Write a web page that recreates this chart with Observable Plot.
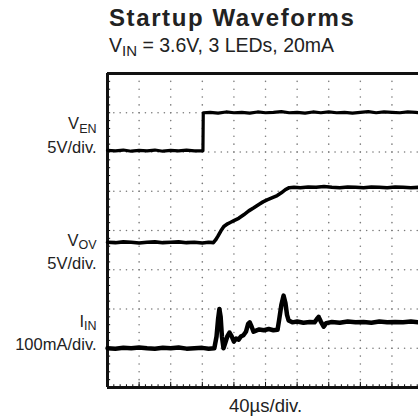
<!DOCTYPE html>
<html>
<head>
<meta charset="utf-8">
<script src="https://cdn.jsdelivr.net/npm/d3@7"></script>
<script src="https://cdn.jsdelivr.net/npm/@observablehq/plot@0.6"></script>
<style>
  body { margin: 0; background: #fff; font-family: "Liberation Sans", Arial, sans-serif; }
  #wrap { position: relative; width: 418px; height: 416px; overflow: hidden; background: #fff; }
  #chart { position: absolute; left: 0; top: 0; }
  #title { position: absolute; left: 109px; top: 6px; font-weight: bold; font-size: 24px; letter-spacing: 1.6px; color: #222; line-height: 1; white-space: nowrap; }
  #sub { position: absolute; left: 109px; top: 36px; font-size: 19.5px; color: #222; line-height: 1; white-space: nowrap; }
  #sub span { font-size: 15px; position: relative; top: 4px; }
</style>
</head>
<body>
<div id="wrap">
  <div id="chart"></div>
  <div id="title">Startup Waveforms</div>
  <div id="sub">V<span>IN</span> = 3.6V, 3 LEDs, 20mA</div>
</div>
<script>
// Time axis in divisions (40 µs/div), vertical in divisions from screen bottom
const ven = [[0,6.04],[0.25,6.03],[0.5,6.05],[0.75,6.02],[1,6.04],[1.25,6.03],[1.5,6.05],[1.75,6.02],[2,6.04],[2.25,6.03],[2.5,6.05],[2.75,6.03],[3.02,6.03],[3.03,7.0],[3.25,7.01],[3.5,6.99],[3.75,7.02],[4,7.0],[4.25,7.01],[4.5,6.99],[4.75,7.02],[5,7.0],[5.25,7.01],[5.5,7.03],[5.75,7.0],[6,7.01],[6.25,6.99],[6.5,7.02],[6.75,7.0],[7,7.02],[7.25,7.0],[7.5,7.01],[7.75,6.99],[8,7.01],[8.25,7.03],[8.5,7.0],[8.75,7.02],[9,7.01],[9.25,7.0],[9.5,7.02],[9.75,7.01],[9.84,7.0]];
const vov = [[0,3.70],[0.25,3.69],[0.5,3.71],[0.75,3.70],[1,3.68],[1.25,3.70],[1.5,3.71],[1.75,3.69],[2,3.70],[2.25,3.71],[2.5,3.69],[2.75,3.70],[3,3.68],[3.2,3.70],[3.35,3.69],[3.42,3.76],[3.49,3.85],[3.58,3.98],[3.68,4.10],[3.8,4.17],[3.9,4.21],[4.0,4.25],[4.15,4.31],[4.31,4.40],[4.47,4.50],[4.63,4.58],[4.8,4.67],[4.92,4.73],[5.05,4.78],[5.2,4.83],[5.37,4.89],[5.5,4.96],[5.63,5.04],[5.75,5.09],[5.9,5.10],[6.1,5.09],[6.35,5.11],[6.6,5.10],[6.85,5.12],[7.1,5.10],[7.35,5.09],[7.6,5.11],[7.85,5.10],[8.1,5.09],[8.35,5.11],[8.6,5.10],[8.85,5.09],[9.1,5.11],[9.35,5.10],[9.6,5.09],[9.84,5.10]];
const iin = [[0,1.0],[0.25,0.99],[0.5,1.01],[0.75,1.0],[1,1.02],[1.25,1.0],[1.5,0.99],[1.75,1.01],[2,1.0],[2.25,1.02],[2.5,0.99],[2.75,1.0],[3,1.01],[3.2,0.99],[3.38,1.0],[3.45,1.3],[3.5,1.75],[3.54,2.0],[3.58,1.8],[3.62,1.3],[3.67,1.0],[3.72,1.12],[3.79,1.3],[3.86,1.4],[3.93,1.3],[4.0,1.17],[4.07,1.25],[4.15,1.22],[4.22,1.3],[4.3,1.33],[4.38,1.42],[4.45,1.62],[4.5,1.66],[4.56,1.55],[4.62,1.42],[4.7,1.45],[4.8,1.48],[4.95,1.46],[5.1,1.49],[5.25,1.46],[5.38,1.47],[5.43,1.72],[5.5,2.1],[5.57,2.34],[5.63,2.15],[5.68,1.85],[5.73,1.71],[5.85,1.66],[6.0,1.68],[6.2,1.65],[6.4,1.67],[6.55,1.66],[6.62,1.74],[6.68,1.8],[6.75,1.68],[6.84,1.55],[6.92,1.64],[7.1,1.67],[7.35,1.65],[7.6,1.68],[7.85,1.66],[8.1,1.67],[8.35,1.65],[8.6,1.68],[8.85,1.66],[9.1,1.67],[9.35,1.66],[9.6,1.68],[9.84,1.66]];

const channelLabels = ["V_EN", "5V/div.", "V_OV", "5V/div.", "I_IN", "100mA/div."];
const channelLabelRows = [6.72, 6.10, 3.74, 3.16, 1.68, 1.10];
const timeLabel = ["40µs/div."];

const xMax = 9.84;   // visible part of the 10-division screen
const majorX = d3.range(1, 10);
const majorY = d3.range(1, 8);
const minorX = d3.range(0.2, xMax, 0.2);
const minorY = d3.range(0.2, 8, 0.2);

const gridDots = [];
for (const gx of majorX) for (const gy of minorY) gridDots.push([gx, gy]);
for (const gy of majorY) for (const gx of minorX) gridDots.push([gx, gy]);

const labels = channelLabels.map((t, i) => ({t, y: channelLabelRows[i]}));
const font = '"Liberation Sans", Arial, sans-serif';

const chart = Plot.plot({
  width: 418,
  height: 416,
  marginLeft: 107,
  marginRight: 0,
  marginTop: 73,
  marginBottom: 29,
  x: {domain: [0, xMax], axis: null},
  y: {domain: [0, 8], axis: null},
  style: {background: "transparent", fontFamily: font, overflow: "visible"},
  marks: [
    Plot.dot(gridDots, {x: d => d[0], y: d => d[1], r: 0.8, fill: "#7a7a7a", stroke: null}),
    Plot.ruleY(minorY, {x1: 0, x2: 0.1, stroke: "#111", strokeWidth: 1}),
    Plot.ruleX(minorX, {y1: 0, y2: 0.07, stroke: "#111", strokeWidth: 1}),
    Plot.ruleX(majorX, {y1: 0, y2: 0.13, stroke: "#111", strokeWidth: 1}),
    Plot.ruleY([0, 8], {stroke: "#111", strokeWidth: 3}),
    Plot.ruleX([0], {stroke: "#111", strokeWidth: 3}),
    Plot.line(ven, {x: d => d[0], y: d => d[1], stroke: "#000", strokeWidth: 3.2, strokeLinejoin: "round"}),
    Plot.line(vov, {x: d => d[0], y: d => d[1], stroke: "#000", strokeWidth: 3.6, strokeLinejoin: "round"}),
    Plot.line(iin, {x: d => d[0], y: d => d[1], stroke: "#000", strokeWidth: 4.5, strokeLinejoin: "round"}),
    Plot.text(labels, {x: 0, y: "y", text: "t", textAnchor: "end", dx: -11, fontSize: 16.5, fill: "#222", lineAnchor: "middle"}),
    Plot.text(timeLabel, {x: 5, frameAnchor: "bottom", text: d => d, dy: 19, fontSize: 18.5, fill: "#222", lineAnchor: "middle"})
  ]
});

// render channel subscripts (e.g. V_EN -> V with subscript EN)
d3.select(chart).selectAll("text").each(function() {
  const s = this.textContent;
  if (s.includes("_")) {
    const [a, b] = s.split("_");
    const t = d3.select(this);
    t.text(null);
    t.append("tspan").text(a);
    t.append("tspan").attr("font-size", 12.5).attr("dy", 3.5).text(b);
  }
});

document.getElementById("chart").appendChild(chart);
</script>
</body>
</html>
